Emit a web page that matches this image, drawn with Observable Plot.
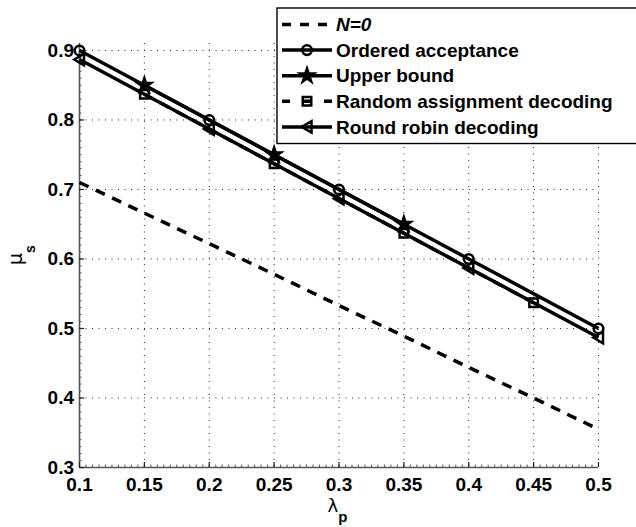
<!DOCTYPE html>
<html>
<head>
<meta charset="utf-8">
<script src="https://cdn.jsdelivr.net/npm/d3@7"></script>
<script src="https://cdn.jsdelivr.net/npm/@observablehq/plot@0.6"></script>
<style>
  html, body { margin: 0; padding: 0; background: #fff; }
  #chart svg { display: block; }
</style>
</head>
<body>
<div id="chart"></div>
<script>
// Arrival rate of primary users (x) and secondary service rate (y) for each scheme
const noNoiseLambda = [0.1, 0.15, 0.2, 0.25, 0.3, 0.35, 0.4, 0.45, 0.5];
const noNoiseValues = [0.71, 0.666, 0.622, 0.578, 0.533, 0.489, 0.444, 0.400, 0.355];

const orderedLambda = [0.1, 0.2, 0.3, 0.4, 0.5];
const orderedValues = [0.9, 0.8, 0.7, 0.6, 0.5];

const upperLambda = [0.15, 0.25, 0.35];
const upperValues = [0.85, 0.75, 0.65];

const randomLambda = [0.15, 0.25, 0.35, 0.45];
const randomValues = [0.837, 0.737, 0.637, 0.537];

const roundRobinLambda = [0.1, 0.2, 0.3, 0.4, 0.5];
const roundRobinValues = [0.887, 0.787, 0.687, 0.587, 0.487];

const seriesNames = ["N=0", "Ordered acceptance", "Upper bound", "Random assignment decoding", "Round robin decoding"];

const xTicks = [0.1, 0.15, 0.2, 0.25, 0.3, 0.35, 0.4, 0.45, 0.5];
const xTickLabels = ["0.1", "0.15", "0.2", "0.25", "0.3", "0.35", "0.4", "0.45", "0.5"];
const yTicks = [0.3, 0.4, 0.5, 0.6, 0.7, 0.8, 0.9];
const yTickLabels = ["0.3", "0.4", "0.5", "0.6", "0.7", "0.8", "0.9"];

const zip = (xs, ys) => xs.map((x, i) => ({x, y: ys[i]}));

// Layout
const W = 636, H = 527;
const mLeft = 79, mRight = 38, mTop = 43, mBottom = 60;
const plotW = W - mLeft - mRight, plotH = H - mTop - mBottom;

// Minor tick positions along both axes
const xMinor = d3.range(0, 81).map(i => 0.1 + i * 0.005);
const yMinor = d3.range(0, 61).map(i => 0.3 + i * 0.01);

// Left-pointing triangle marker
const triangleLeft = {
  draw(ctx, size) {
    const r = Math.sqrt(size / Math.PI);
    ctx.moveTo(-r * 1.05, 0);
    ctx.lineTo(r * 0.9, -r * 1.15);
    ctx.lineTo(r * 0.9, r * 1.15);
    ctx.closePath();
  }
};

const dashPattern = "10,8";
const lineW = 3.5;
const markW = 2.5;
const axisGray = "#555";

const styles = [
  {data: zip(noNoiseLambda, noNoiseValues), dash: dashPattern, symbol: null},
  {data: zip(orderedLambda, orderedValues), dash: null, symbol: "circle", r: 4.8, fill: "none"},
  {data: zip(upperLambda, upperValues), dash: null, symbol: "star", r: 4.3, fill: "black"},
  {data: zip(randomLambda, randomValues), dash: dashPattern, symbol: "square", r: 4.8, fill: "none"},
  {data: zip(roundRobinLambda, roundRobinValues), dash: null, symbol: triangleLeft, r: 5, fill: "none"}
];

const marks = [
  // dotted grid
  Plot.ruleX(xTicks.slice(1), {stroke: "#222", strokeWidth: 1, strokeDasharray: "1,5.5"}),
  Plot.ruleY(yTicks.slice(1), {stroke: "#222", strokeWidth: 1, strokeDasharray: "1,5.5"}),
  // axis lines
  Plot.ruleX([0.1], {stroke: axisGray, strokeWidth: 1.6}),
  Plot.ruleY([0.3], {stroke: axisGray, strokeWidth: 1.6}),
  // inward minor and major ticks
  Plot.tickX(xMinor, {x: d => d, stroke: axisGray, strokeWidth: 1, insetTop: plotH - 2.5}),
  Plot.tickY(yMinor, {y: d => d, stroke: axisGray, strokeWidth: 1, insetRight: plotW - 2.5}),
  Plot.tickX(xTicks, {x: d => d, stroke: "#222", strokeWidth: 1.2, insetTop: plotH - 5}),
  Plot.tickY(yTicks, {y: d => d, stroke: "#222", strokeWidth: 1.2, insetRight: plotW - 5}),
  Plot.axisX({ticks: xTicks, tickSize: 0, tickPadding: 10, label: null,
    tickFormat: d => xTickLabels[xTicks.indexOf(d)]}),
  Plot.axisY({ticks: yTicks, tickSize: 0, tickPadding: 5.5, label: null,
    tickFormat: d => yTickLabels[yTicks.indexOf(d)]})
];

for (const s of styles) {
  marks.push(Plot.line(s.data, {x: "x", y: "y", stroke: "black", strokeWidth: lineW,
    strokeDasharray: s.dash, strokeLinecap: "butt", strokeLinejoin: "round"}));
  if (s.symbol) {
    marks.push(Plot.dot(s.data, {x: "x", y: "y", symbol: s.symbol, r: s.r,
      stroke: "black", strokeWidth: markW, fill: s.fill}));
  }
}

const chart = Plot.plot({
  width: W,
  height: H,
  marginLeft: mLeft,
  marginRight: mRight,
  marginTop: mTop,
  marginBottom: mBottom,
  x: {domain: [0.1, 0.5]},
  y: {domain: [0.3, 0.91]},
  style: {
    fontFamily: "'Liberation Sans', Arial, sans-serif",
    fontSize: "19px",
    fontWeight: "bold",
    color: "black",
    background: "white",
    overflow: "visible"
  },
  marks
});

const svg = d3.select(chart);

// Axis titles with subscripts
const cx = (mLeft + (W - mRight)) / 2;
const xt = svg.append("text")
  .attr("x", cx - 11).attr("y", 512)
  .attr("text-anchor", "start")
  .attr("font-family", "'DejaVu Sans', 'Liberation Sans', sans-serif")
  .attr("fill", "black");
xt.append("tspan").attr("font-size", 18).attr("font-weight", "normal").text("λ");
xt.append("tspan").attr("dy", 10).attr("font-size", 15).attr("font-weight", "bold")
  .attr("font-family", "'Liberation Sans', Arial, sans-serif").text("p");

const yt = svg.append("text")
  .attr("transform", `translate(21.5, ${mTop + plotH / 2 + 10}) rotate(-90)`)
  .attr("text-anchor", "start")
  .attr("font-family", "'DejaVu Sans', 'Liberation Sans', sans-serif")
  .attr("fill", "black");
yt.append("tspan").attr("font-size", 19).attr("font-weight", "normal").text("μ");
yt.append("tspan").attr("dy", 13).attr("font-size", 14).attr("font-weight", "bold")
  .attr("font-family", "'Liberation Sans', Arial, sans-serif").text("s");

// Legend box
const lg = svg.append("g").attr("text-anchor", "start");
lg.append("rect").attr("x", 277).attr("y", 8).attr("width", 400).attr("height", 135.5)
  .attr("fill", "white").attr("stroke", "black").attr("stroke-width", 1.4);

const rowY = [24.5, 50.1, 75.7, 101.3, 126.9];
const legendDash = ["9,9", null, null, "8,13", null];
const symbolOf = {circle: d3.symbolCircle, star: d3.symbolStar, square: d3.symbolSquare};

seriesNames.forEach((name, i) => {
  const s = styles[i];
  const y = rowY[i];
  lg.append("line").attr("x1", 282).attr("x2", 332).attr("y1", y).attr("y2", y)
    .attr("stroke", "black").attr("stroke-width", lineW)
    .attr("stroke-dasharray", legendDash[i]);
  if (s.symbol) {
    const type = typeof s.symbol === "string" ? symbolOf[s.symbol] : s.symbol;
    lg.append("path")
      .attr("transform", `translate(307,${y})`)
      .attr("d", d3.symbol(type, Math.PI * s.r * s.r)())
      .attr("fill", s.fill).attr("stroke", "black").attr("stroke-width", markW);
  }
  lg.append("text").attr("x", 336).attr("y", y).attr("dy", "0.35em")
    .attr("text-anchor", "start")
    .attr("font-size", 19).attr("font-weight", "bold")
    .attr("font-style", i === 0 ? "italic" : "normal")
    .attr("fill", "black")
    .text(name);
});

document.getElementById("chart").appendChild(chart);
</script>
</body>
</html>
